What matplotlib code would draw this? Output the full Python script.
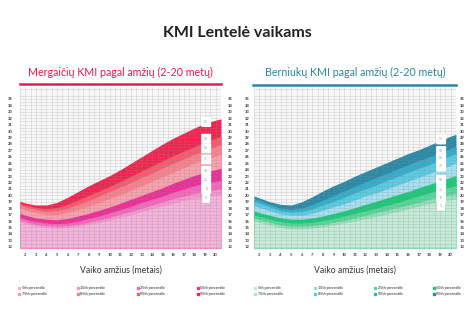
import matplotlib
matplotlib.use("Agg")
import matplotlib.pyplot as plt
from matplotlib.lines import Line2D
from matplotlib.patches import Rectangle

plt.rcParams["font.family"] = ["Lato", "DejaVu Sans"]

# ── data ──
AGES = [1.5, 2, 3, 4, 5, 6, 7, 8, 9, 10, 11, 12, 13, 14, 15, 16, 17, 18, 19, 20, 20.5]

GIRLS_P95 = [19.1, 18.8, 18.5, 18.5, 18.9, 19.7, 20.6, 21.5, 22.3, 23.1, 24.0, 25.0, 26.0, 27.0, 28.0, 28.9, 29.7, 30.5, 31.2, 31.7, 31.9]
GIRLS_P90 = [18.8, 18.5, 18.1, 17.9, 18.1, 18.6, 19.3, 20.0, 20.7, 21.4, 22.2, 23.0, 23.8, 24.6, 25.4, 26.2, 26.9, 27.6, 28.3, 28.9, 29.2]
GIRLS_P85 = [18.5, 18.2, 17.8, 17.5, 17.6, 18.0, 18.6, 19.2, 19.9, 20.6, 21.3, 22.0, 22.8, 23.5, 24.3, 25.0, 25.7, 26.4, 27.0, 27.6, 27.9]
GIRLS_P75 = [18.0, 17.7, 17.3, 17.0, 17.0, 17.3, 17.8, 18.3, 18.9, 19.5, 20.1, 20.8, 21.5, 22.2, 22.9, 23.6, 24.3, 25.0, 25.6, 26.1, 26.4]
GIRLS_P50 = [17.2, 16.9, 16.5, 16.3, 16.2, 16.4, 16.8, 17.2, 17.7, 18.2, 18.8, 19.4, 20.0, 20.6, 21.2, 21.9, 22.5, 23.1, 23.6, 24.0, 24.2]
GIRLS_P25 = [16.6, 16.3, 15.9, 15.7, 15.6, 15.7, 16.0, 16.4, 16.8, 17.3, 17.8, 18.3, 18.9, 19.4, 19.9, 20.5, 21.0, 21.5, 21.9, 22.2, 22.3]
GIRLS_P10 = [16.2, 15.9, 15.5, 15.3, 15.2, 15.3, 15.5, 15.8, 16.2, 16.6, 17.1, 17.5, 18.0, 18.5, 19.0, 19.5, 19.9, 20.3, 20.6, 20.9, 21.0]
GIRLS_P5 = [15.9, 15.6, 15.2, 15.0, 14.9, 15.0, 15.2, 15.5, 15.8, 16.2, 16.6, 17.0, 17.5, 17.9, 18.4, 18.8, 19.2, 19.5, 19.8, 20.0, 20.1]

BOYS_P95 = [19.9, 19.6, 19.0, 18.6, 18.5, 19.0, 19.8, 20.7, 21.5, 22.2, 23.0, 23.7, 24.4, 25.1, 25.8, 26.5, 27.1, 27.8, 28.5, 29.2, 29.5]
BOYS_P90 = [19.5, 19.2, 18.6, 18.0, 17.8, 18.0, 18.6, 19.3, 20.0, 20.7, 21.4, 22.1, 22.8, 23.4, 24.1, 24.8, 25.4, 26.0, 26.6, 27.3, 27.6]
BOYS_P85 = [19.1, 18.8, 18.2, 17.6, 17.4, 17.5, 17.9, 18.5, 19.1, 19.7, 20.4, 21.0, 21.6, 22.3, 22.9, 23.6, 24.2, 24.8, 25.5, 26.2, 26.5]
BOYS_P75 = [18.4, 18.1, 17.6, 17.1, 16.9, 16.9, 17.2, 17.7, 18.2, 18.7, 19.3, 19.9, 20.4, 21.0, 21.6, 22.2, 22.8, 23.4, 24.0, 24.7, 25.0]
BOYS_P50 = [17.6, 17.3, 16.9, 16.5, 16.3, 16.3, 16.5, 16.8, 17.2, 17.6, 18.1, 18.6, 19.1, 19.6, 20.1, 20.6, 21.2, 21.7, 22.3, 22.8, 23.1]
BOYS_P25 = [16.9, 16.7, 16.3, 15.9, 15.7, 15.7, 15.8, 16.1, 16.4, 16.8, 17.2, 17.6, 18.0, 18.5, 18.9, 19.4, 19.9, 20.4, 20.9, 21.3, 21.5]
BOYS_P10 = [16.4, 16.2, 15.8, 15.4, 15.2, 15.2, 15.3, 15.5, 15.8, 16.1, 16.5, 16.9, 17.3, 17.7, 18.1, 18.5, 18.9, 19.4, 19.8, 20.1, 20.3]
BOYS_P5 = [16.0, 15.8, 15.4, 15.0, 14.8, 14.8, 14.9, 15.1, 15.4, 15.7, 16.0, 16.4, 16.7, 17.1, 17.5, 17.9, 18.3, 18.7, 19.0, 19.3, 19.4]

PERCENTILES = [95, 90, 85, 75, 50, 25, 10, 5]
GIRLS_LABEL_Y = [31.4, 28.8, 27.3, 25.6, 23.8, 22.4, 21.0, 19.6]
BOYS_LABEL_Y = [28.7, 26.9, 25.8, 24.5, 22.4, 20.9, 19.6, 18.4]
LABEL_AGE = 19.1

LEGEND_ROW1 = ["5th percentile", "10th percentile", "25th percentile", "50th percentile"]
LEGEND_ROW2 = ["75th percentile", "85th percentile", "90th percentile", "95th percentile"]

# ── styles ──
GIRLS_COLORS = ["#f32550", "#f65b6f", "#f8838f", "#f8a2ae", "#ee2f98", "#f26abb", "#f397cf", "#f3b3da"]
BOYS_COLORS = ["#2a8ba8", "#35aecb", "#5bcbe3", "#a6e0ee", "#1ec97a", "#5bd69b", "#98e0bc", "#c3ebd5"]
GIRLS_MAIN = "#e8194f"
BOYS_MAIN = "#2a86a3"
Y_LOW, Y_HIGH = 11.85, 36.85


def draw_panel(ax, series, colors, label_y, pad):
    ax.set_facecolor("#f7f7f7")
    # fill from the bottom up to each percentile, highest first
    for values, color in zip(series, colors):
        ax.fill_between(AGES, Y_LOW, values, color=color, linewidth=0, zorder=1)

    ax.set_xlim(1.5, 20.5)
    ax.set_ylim(Y_LOW, Y_HIGH)
    ax.set_xticks(range(2, 21))
    ax.set_yticks(range(12, 36))
    ax.set_xticks([x + 0.5 for x in range(1, 21)], minor=True)
    ax.set_yticks([y + 0.5 for y in range(11, 37)], minor=True)
    ax.grid(True, which="both", color="#8a8a8a", alpha=0.32, linewidth=0.4, zorder=2)
    ax.set_axisbelow(False)
    ax.tick_params(which="both", length=0, labelsize=3, labelcolor="#3a3a3a")
    ax.tick_params(axis="y", labelright=True, pad=pad)
    ax.tick_params(axis="x", pad=2)
    for lab in ax.get_yticklabels() + ax.get_xticklabels():
        lab.set_fontweight("bold")
    for spine in ax.spines.values():
        spine.set_visible(False)

    for pct, y in zip(PERCENTILES, label_y):
        ax.text(LABEL_AGE, y, str(pct), fontsize=2.4, color="#999999",
                ha="center", va="center", zorder=5,
                bbox=dict(boxstyle="round,pad=0.9,rounding_size=0.3", fc="white", ec="none"))


fig = plt.figure(figsize=(4.74, 3.26), dpi=100)
fig.patch.set_facecolor("white")

W, H = 474.0, 326.0
ax_g = fig.add_axes([20 / W, (H - 250) / H, 201 / W, 163 / H])
ax_b = fig.add_axes([254 / W, (H - 250) / H, 202 / W, 163 / H])

draw_panel(ax_g, [GIRLS_P95, GIRLS_P90, GIRLS_P85, GIRLS_P75,
                  GIRLS_P50, GIRLS_P25, GIRLS_P10, GIRLS_P5],
           GIRLS_COLORS, GIRLS_LABEL_Y, 5)
draw_panel(ax_b, [BOYS_P95, BOYS_P90, BOYS_P85, BOYS_P75,
                  BOYS_P50, BOYS_P25, BOYS_P10, BOYS_P5],
           BOYS_COLORS, BOYS_LABEL_Y, 3)

# titles
fig.text(237 / W, 1 - 33 / H, "KMI Lentelė vaikams", ha="center", va="center",
         fontsize=11.5, fontweight="bold", color="#222222")
fig.text(120.5 / W, 1 - 72 / H, "Mergaičių KMI pagal amžių (2-20 metų)", ha="center",
         va="center", fontsize=7.7, color=GIRLS_MAIN)
fig.text(355 / W, 1 - 72 / H, "Berniukų KMI pagal amžių (2-20 metų)", ha="center",
         va="center", fontsize=7.7, color=BOYS_MAIN)
fig.add_artist(Line2D([20 / W, 221 / W], [1 - 84.5 / H] * 2, color=GIRLS_MAIN, linewidth=1.8))
fig.add_artist(Line2D([253 / W, 456 / W], [1 - 85 / H] * 2, color=BOYS_MAIN, linewidth=1.8))

# x labels
fig.text(120.5 / W, 1 - 270 / H, "Vaiko amžius (metais)", ha="center", va="center",
         fontsize=6.2, color="#333333")
fig.text(355 / W, 1 - 270 / H, "Vaiko amžius (metais)", ha="center", va="center",
         fontsize=6.2, color="#333333")

# legends (two rows, four columns)
legend_colors_g = GIRLS_COLORS[::-1]
legend_colors_b = BOYS_COLORS[::-1]
cols_g = [18, 77, 137, 197]
cols_b = [254, 314, 374, 433]
for cols, colors in ((cols_g, legend_colors_g), (cols_b, legend_colors_b)):
    for row, (labels, y) in enumerate(((LEGEND_ROW1, 288), (LEGEND_ROW2, 294))):
        for i, (x, text) in enumerate(zip(cols, labels)):
            color = colors[row * 4 + i]
            fig.add_artist(Rectangle((x / W, 1 - (y + 1) / H), 2 / W, 2 / H,
                                     transform=fig.transFigure, color=color))
            fig.text((x + 3.5) / W, 1 - y / H, text, ha="left", va="center",
                     fontsize=2.6, fontweight="bold", color="#555555")

plt.savefig("out.png", dpi=100)
